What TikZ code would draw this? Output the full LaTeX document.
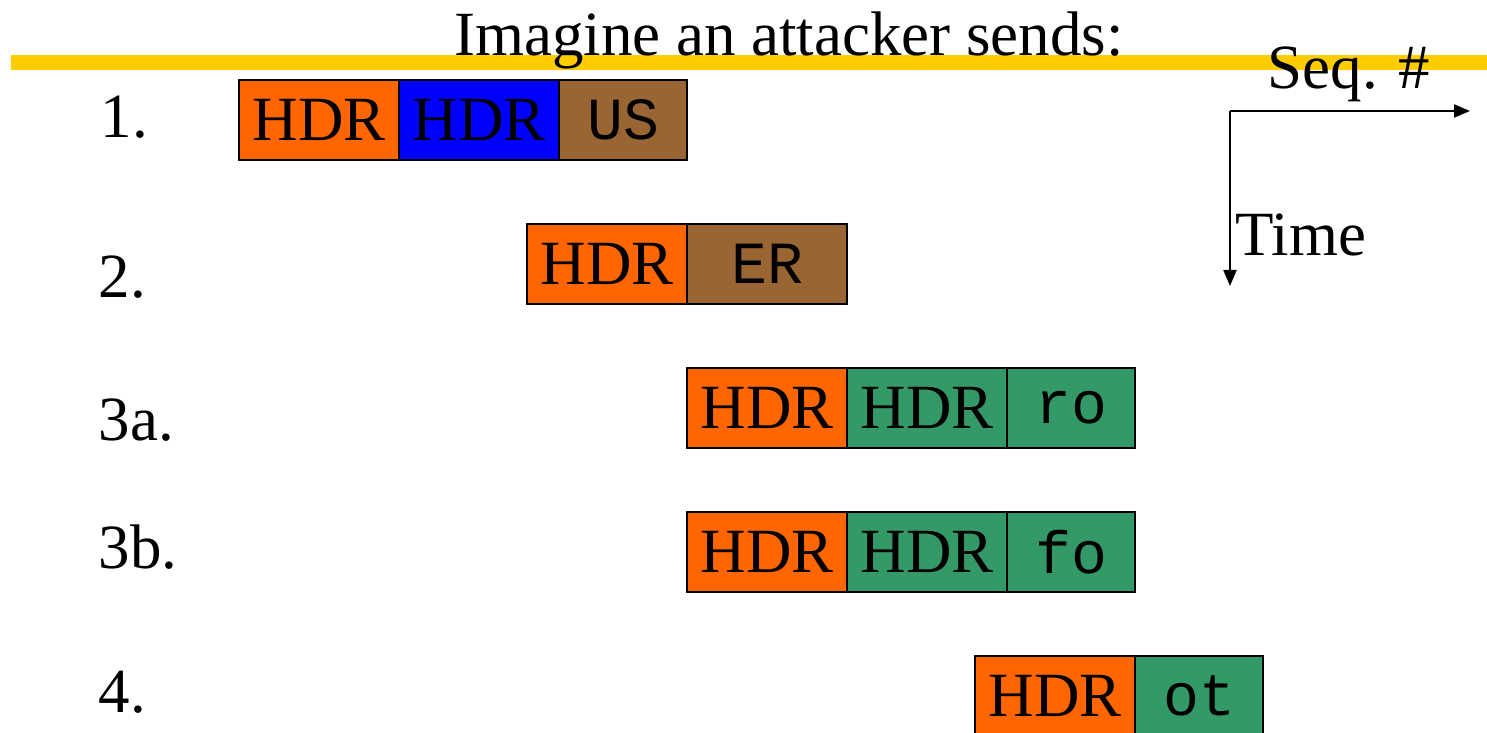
\documentclass[tikz,border=0pt]{standalone}
\usepackage{fontspec}
\setmainfont{Liberation Serif}
\setmonofont{Liberation Mono}
\usetikzlibrary{arrows.meta}
\definecolor{hdrorange}{HTML}{FF6600}
\definecolor{hdrblue}{HTML}{0000FF}
\definecolor{paybrown}{HTML}{996633}
\definecolor{paygreen}{HTML}{339966}
\definecolor{rulegold}{HTML}{FFCC00}
\tikzset{
  big/.style={font=\fontsize{17.9}{20}\selectfont},
  cell/.style={draw=black, line width=0.6pt, minimum height=0.8cm, inner sep=0pt, anchor=north west, big},
  hdr/.style={cell, minimum width=1.6cm},
  pay/.style={cell, minimum width=1.28cm, font=\fontsize{17}{20}\selectfont\ttfamily},
  rowlabel/.style={big, anchor=base west, inner sep=0pt},
  axis/.style={line width=0.6pt, -{Triangle[length=0.16cm, width=0.13cm]}}
}
\begin{document}
\begin{tikzpicture}[x=0.01cm, y=-0.01cm]
\useasboundingbox (0,0) rectangle (1487,733);
% gold rule under the heading
\fill[rulegold] (11,55) rectangle (1487,70);
\node[big, anchor=base, inner sep=0pt] (title) at (789,55) {Imagine an attacker sends:};

% row labels
\node[rowlabel] (l1)  at (100,137) {1.};
\node[rowlabel] (l2)  at (98,297)  {2.};
\node[rowlabel] (l3a) at (98,440)  {3a.};
\node[rowlabel] (l3b) at (98,568)  {3b.};
\node[rowlabel] (l4)  at (98,712)  {4.};

% packet 1
\node[hdr, fill=hdrorange] (p1h1) at (238,79) {HDR};
\node[hdr, fill=hdrblue]   (p1h2) at (398,79) {HDR};
\node[pay, fill=paybrown]  (p1d)  at (558,79) {US};

% packet 2
\node[hdr, fill=hdrorange] (p2h1) at (526,223) {HDR};
\node[pay, fill=paybrown, minimum width=1.6cm] (p2d) at (686,223) {ER};

% packet 3a
\node[hdr, fill=hdrorange] (p3ah1) at (686,367) {HDR};
\node[hdr, fill=paygreen]  (p3ah2) at (846,367) {HDR};
\node[pay, fill=paygreen]  (p3ad)  at (1006,367) {ro};

% packet 3b
\node[hdr, fill=hdrorange] (p3bh1) at (686,511) {HDR};
\node[hdr, fill=paygreen]  (p3bh2) at (846,511) {HDR};
\node[pay, fill=paygreen]  (p3bd)  at (1006,511) {fo};

% packet 4
\node[hdr, fill=hdrorange] (p4h1) at (974,655) {HDR};
\node[pay, fill=paygreen]  (p4d)  at (1134,655) {ot};

% axes
\coordinate (origin) at (1230,111);
\coordinate (seqend) at (1470,111);
\coordinate (timeend) at (1230,286);
\draw[axis] (origin) -- (seqend);
\draw[axis] (origin) -- (timeend);
\node[big, anchor=base west, inner sep=0pt] (seq) at (1267,88) {Seq. \#};
\node[big, anchor=base west, inner sep=0pt] (time) at (1235,255) {Time};
\end{tikzpicture}
\end{document}
